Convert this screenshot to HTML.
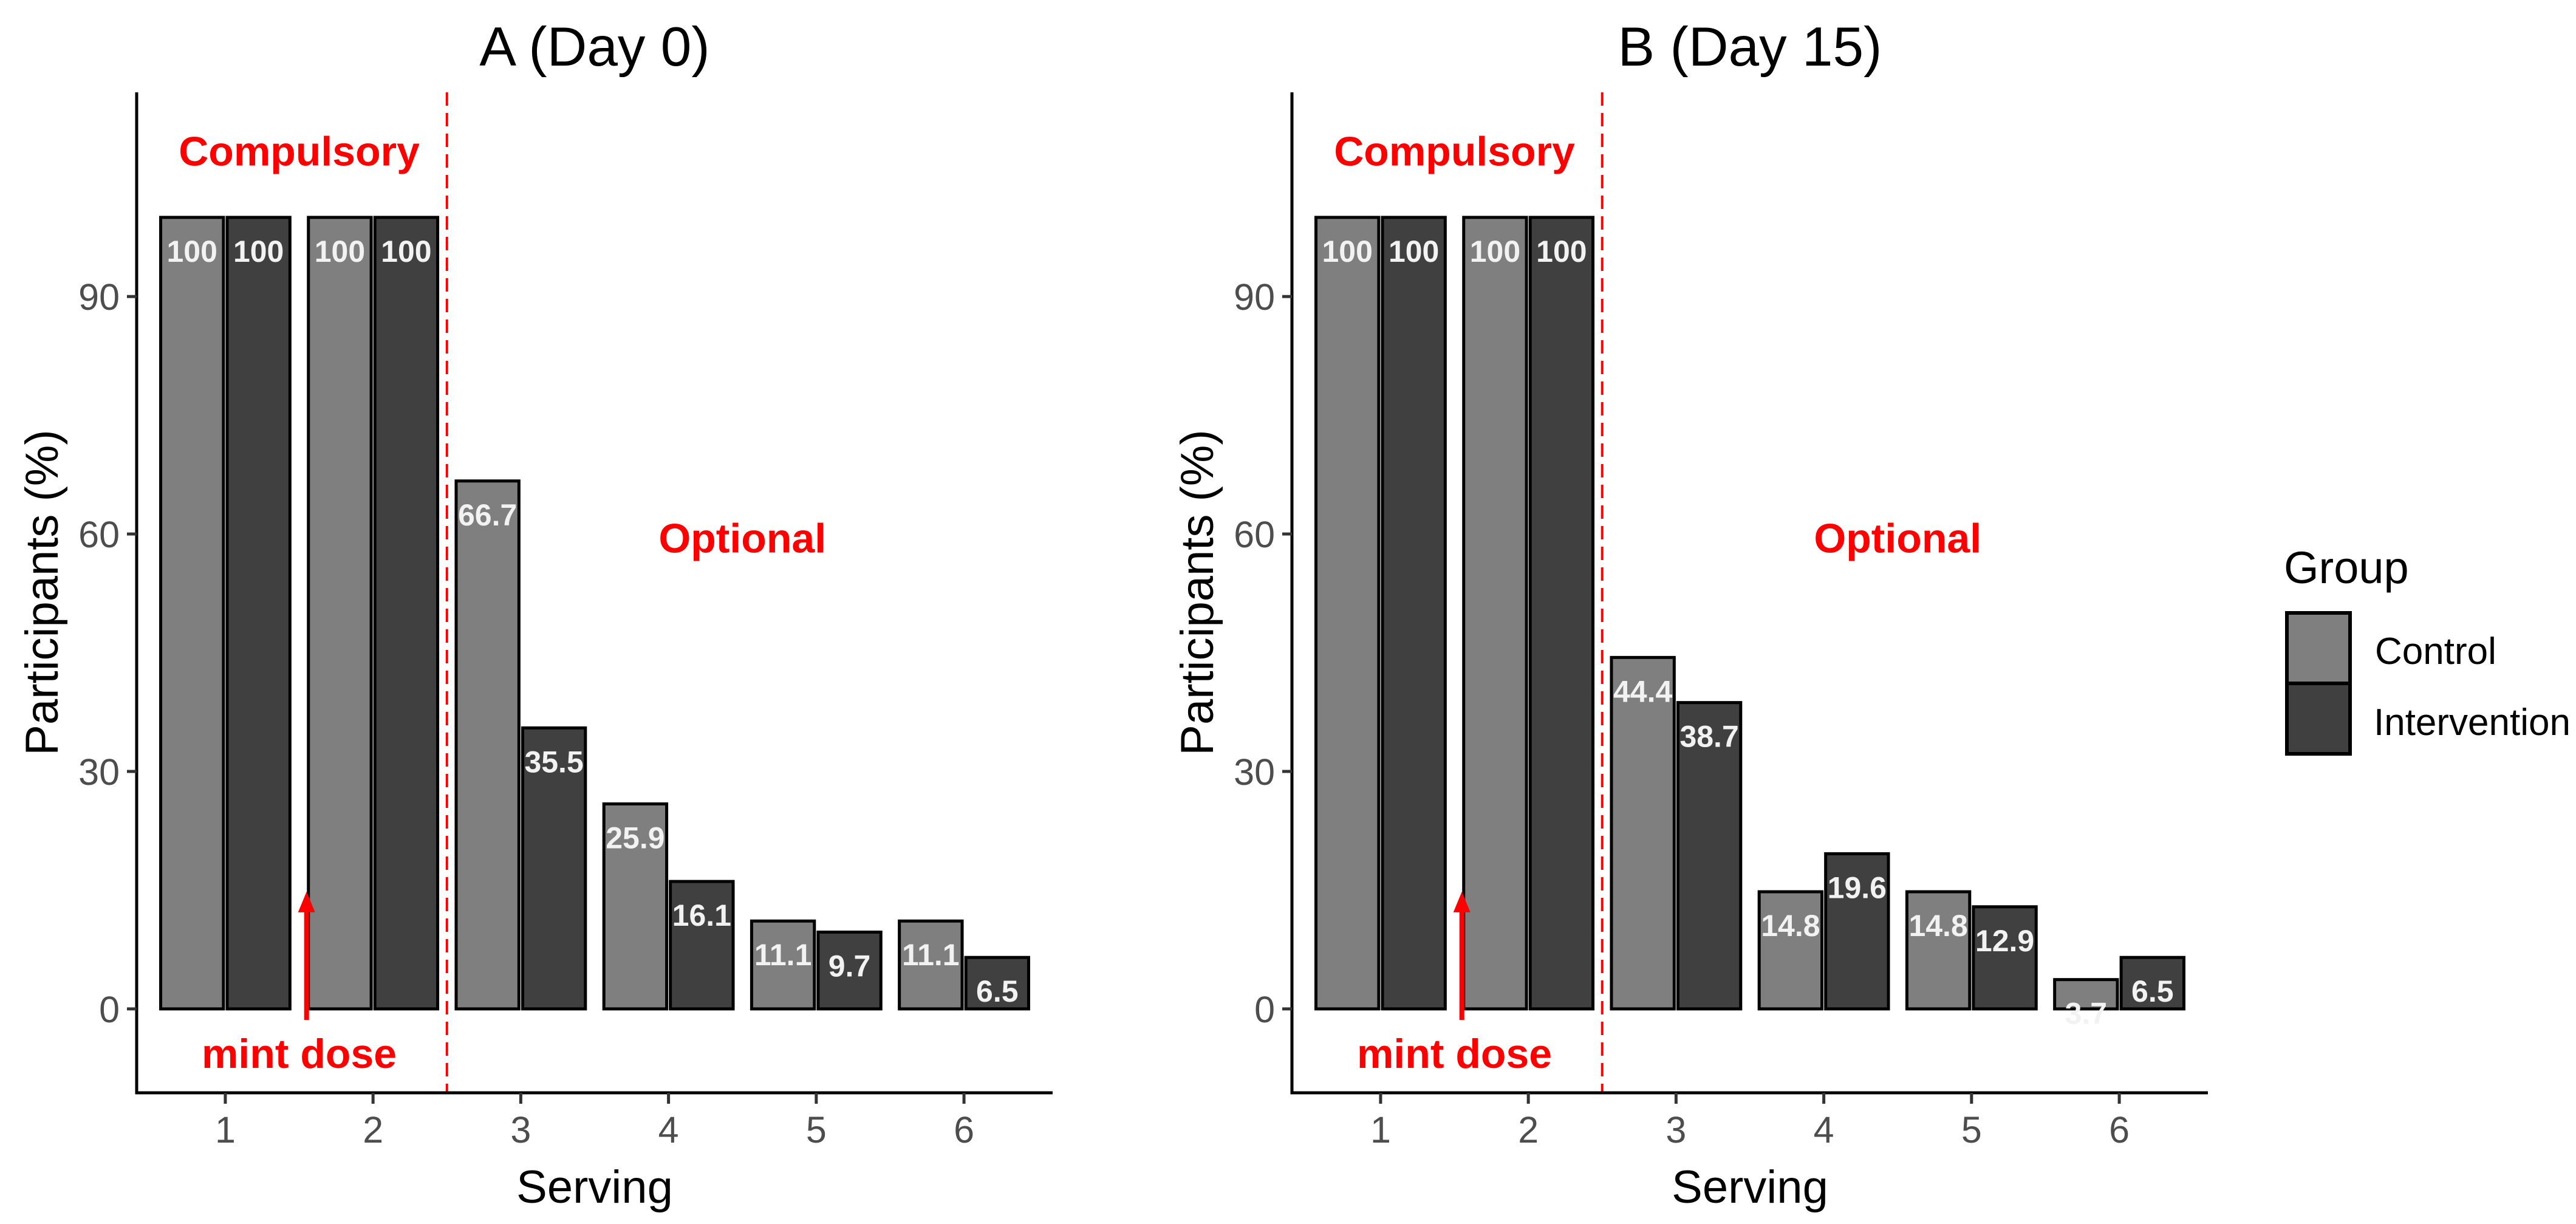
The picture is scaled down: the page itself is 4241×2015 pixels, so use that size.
<!DOCTYPE html>
<html><head><meta charset="utf-8"><style>
html,body{margin:0;padding:0;background:#fff;}
svg{display:block;font-family:"Liberation Sans",Arial,sans-serif;}
</style></head><body>
<svg id="chart" width="4241" height="2015" viewBox="0 0 4241 2015" xmlns="http://www.w3.org/2000/svg">
<defs><marker id="ah" markerWidth="6" markerHeight="6" refX="3" refY="3" orient="auto" markerUnits="userSpaceOnUse" viewBox="0 0 6 6"><path d="M0,0 L6,3 L0,6 Z" fill="red"/></marker></defs>
<g id="legend">
<text x="3760" y="960" font-size="74" fill="#000">Group</text>
<rect x="3765" y="1009" width="104" height="116" fill="#7f7f7f" stroke="#000" stroke-width="6"/>
<rect x="3765" y="1125" width="104" height="116" fill="#404040" stroke="#000" stroke-width="6"/>
<text x="3910" y="1093" font-size="62" fill="#000">Control</text>
<text x="3908" y="1210" font-size="62" fill="#000">Intervention</text>
</g>
</svg>
<script>
const categories = ["1","2","3","4","5","6"];
const controlA = [100,100,66.7,25.9,11.1,11.1];
const interventionA = [100,100,35.5,16.1,9.7,6.5];
const controlB = [100,100,44.4,14.8,14.8,3.7];
const interventionB = [100,100,38.7,19.6,12.9,6.5];
const yTicks = [0,30,60,90];
const titles = ["A (Day 0)","B (Day 15)"];

const NS = "http://www.w3.org/2000/svg";
const svg = document.getElementById('chart');
function mk(tag, attrs, parent){const e=document.createElementNS(NS,tag);for(const k in attrs)e.setAttribute(k,attrs[k]);(parent||svg).appendChild(e);return e;}

function panel(x0, title, ctrl, intv, key){
  const x1 = x0 + 1508, yTop = 152, yBot = 1799;
  const ymin = -10.6, ymax = 115.8;
  const sy = v => yBot - (v - ymin) / (ymax - ymin) * (yBot - yTop);
  const sx = c => x0 + (c - 0.4) / 6.2 * (x1 - x0);
  const g = mk('g', {});
  
  
  const bw = 0.425 * (sx(2) - sx(1));
  const off = 0.225 * (sx(2) - sx(1));
  categories.forEach((c, i) => {
    [[ctrl, '#7f7f7f', -off, 'control'], [intv, '#404040', off, 'intervention']].forEach(([arr, col, o, nm]) => {
      const v = arr[i];
      const cx = sx(i + 1) + o;
      const r = mk('rect', {x: cx - bw/2, y: sy(v), width: bw, height: sy(0) - sy(v), fill: col, stroke: '#000', 'stroke-width': 5}, g);
      
      
      const t = mk('text', {x: cx, y: sy(v) + 55 + 18, 'text-anchor': 'middle', 'font-size': 50, 'font-weight': 'bold', fill: '#f2f2f2'}, g);
      
      
      t.textContent = String(v);
    });
  });
  // dashed separator
  const d = mk('line', {x1: sx(2.5), x2: sx(2.5), y1: yTop, y2: yBot, stroke: 'red', 'stroke-width': 4, 'stroke-dasharray': '22 12'}, g);
  
  
  // axes
  const ax = mk('path', {d: `M${x0},${yTop} L${x0},${yBot} L${x1},${yBot}`, fill: 'none', stroke: '#000', 'stroke-width': 5}, g);
  
  
  yTicks.forEach(v => {
    mk('line', {x1: x0 - 16, x2: x0, y1: sy(v), y2: sy(v), stroke: '#333', 'stroke-width': 5}, g);
    const t = mk('text', {x: x0 - 28, y: sy(v) + 22, 'text-anchor': 'end', 'font-size': 61, fill: '#4d4d4d'}, g);
    
    
    t.textContent = v;
  });
  categories.forEach((c, i) => {
    mk('line', {x1: sx(i+1), x2: sx(i+1), y1: yBot, y2: yBot + 18, stroke: '#333', 'stroke-width': 5}, g);
    const t = mk('text', {x: sx(i+1), y: 1881, 'text-anchor': 'middle', 'font-size': 61, fill: '#4d4d4d'}, g);
    
    
    t.textContent = c;
  });
  const xt = mk('text', {x: (x0 + x1)/2, y: 1980, 'text-anchor': 'middle', 'font-size': 76, fill: '#000'}, g);
  
  
  xt.textContent = 'Serving';
  const yc = (yTop + yBot)/2;
  const yt = mk('text', {x: 95, y: yc, 'text-anchor': 'middle', 'font-size': 76, fill: '#000', transform: `rotate(-90 ${x0 - 130} ${yc})`}, g);
  yt.setAttribute('x', x0 - 130 + 0);
  yt.setAttribute('y', yc + 0);
  yt.setAttribute('dy', '0');
  
  
  yt.textContent = 'Participants (%)';
  const tt = mk('text', {x: (x0 + x1)/2, y: 108, 'text-anchor': 'middle', 'font-size': 91, fill: '#000'}, g);
  
  
  tt.textContent = title;
  // annotations
  const a1 = mk('text', {x: sx(1.5), y: sy(108.4) + 24, 'text-anchor': 'middle', 'font-size': 68, 'font-weight': 'bold', fill: 'red'}, g);
  
  
  a1.textContent = 'Compulsory';
  const a2 = mk('text', {x: sx(4.5), y: sy(59.5) + 24, 'text-anchor': 'middle', 'font-size': 68, 'font-weight': 'bold', fill: 'red'}, g);
  
  
  a2.textContent = 'Optional';
  const a3 = mk('text', {x: sx(1.5), y: sy(-5.6) + 24, 'text-anchor': 'middle', 'font-size': 68, 'font-weight': 'bold', fill: 'red'}, g);
  
  
  a3.textContent = 'mint dose';
  const ar = mk('line', {x1: sx(1.55), x2: sx(1.55), y1: sy(-1.4), y2: sy(13.5), stroke: 'red', 'stroke-width': 8}, g);
  
  
  const ah = mk('path', {d: `M${sx(1.55)-14},${sy(12.2)} L${sx(1.55)},${sy(14.8)} L${sx(1.55)+14},${sy(12.2)} Z`, fill: 'red'}, g);
  
  
}
panel(225, titles[0], controlA, interventionA, 'a');
panel(2127, titles[1], controlB, interventionB, 'b');
</script>
</body></html>
